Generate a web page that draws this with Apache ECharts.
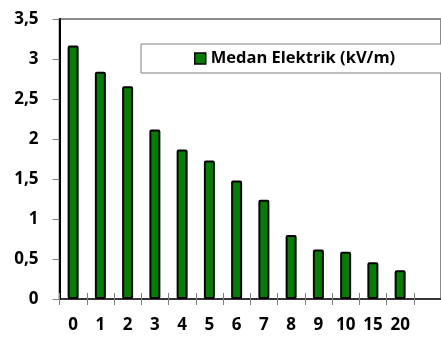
<!DOCTYPE html>
<html>
<head>
<meta charset="utf-8">
<script src="https://cdn.jsdelivr.net/npm/echarts@6/dist/echarts.min.js"></script>
<style>
  html, body { margin: 0; padding: 0; background: #fff; }
  #chart { width: 441px; height: 337px; }
</style>
</head>
<body>
<div id="chart"></div>
<script>
// Distance categories and measured electric field strength
const categories = ['0', '1', '2', '3', '4', '5', '6', '7', '8', '9', '10', '15', '20'];
const fieldValues = [3.17, 2.84, 2.66, 2.12, 1.87, 1.73, 1.48, 1.24, 0.80, 0.62, 0.59, 0.46, 0.36];
const seriesName = 'Medan Elektrik (kV/m)';

// The plot area runs on past the right edge, so one blank slot is appended
const axisSlots = categories.concat(['']);

const FONT = '"Open Sans", "Liberation Sans", sans-serif';

const chart = echarts.init(document.getElementById('chart'), null, { renderer: 'canvas' });

chart.setOption({
  animation: false,
  backgroundColor: '#ffffff',
  grid: {
    left: 59.5,
    right: -9,
    top: 19,
    bottom: 38,
    show: true,
    borderColor: '#8c8c8c',
    borderWidth: 2,
    backgroundColor: 'transparent'
  },
  legend: {
    data: [seriesName],
    left: 141,
    top: 44,
    orient: 'horizontal',
    padding: [6, 80, 6, 53],
    backgroundColor: '#ffffff',
    borderColor: '#7f7f7f',
    borderWidth: 1,
    borderRadius: 0,
    itemWidth: 11,
    itemHeight: 11,
    itemGap: 4,
    icon: 'rect',
    itemStyle: { color: '#007f00', borderColor: '#000000', borderWidth: 1.5 },
    textStyle: { fontFamily: FONT, fontWeight: 'bold', fontSize: 16.5, color: '#000000', padding: [0, 0, 0, 0] }
  },
  xAxis: [
    {
      type: 'category',
      data: axisSlots,
      boundaryGap: true,
      axisLine: { show: true, lineStyle: { color: '#1a1a1a', width: 1.5 } },
      axisTick: { show: true, inside: false, length: 6, lineStyle: { color: '#808080', width: 1 } },
      axisLabel: { show: true, margin: 18, fontFamily: FONT, fontWeight: 'bold', fontSize: 17, color: '#000000', interval: 0 },
      splitLine: { show: false }
    },
    {
      // upper half of the crossing tick marks
      type: 'category',
      position: 'bottom',
      data: axisSlots,
      boundaryGap: true,
      axisLine: { show: false },
      axisTick: { show: true, inside: true, length: 6, lineStyle: { color: '#808080', width: 1 } },
      axisLabel: { show: false },
      splitLine: { show: false }
    }
  ],
  yAxis: {
    type: 'value',
    min: 0,
    max: 3.5,
    interval: 0.5,
    axisLine: { show: true, lineStyle: { color: '#000000', width: 2 } },
    axisTick: { show: true, length: 7, lineStyle: { color: '#808080', width: 1 } },
    axisLabel: {
      margin: 21,
      fontFamily: FONT,
      fontWeight: 'bold',
      fontSize: 17,
      color: '#000000',
      formatter: v => String(v).replace('.', ',')
    },
    splitLine: { show: false }
  },
  series: [
    {
      name: seriesName,
      type: 'bar',
      xAxisIndex: 0,
      data: fieldValues,
      barWidth: 11,
      itemStyle: { color: '#007f00', borderColor: '#000000', borderWidth: 2, borderRadius: 1 }
    }
  ]
});
</script>
</body>
</html>
